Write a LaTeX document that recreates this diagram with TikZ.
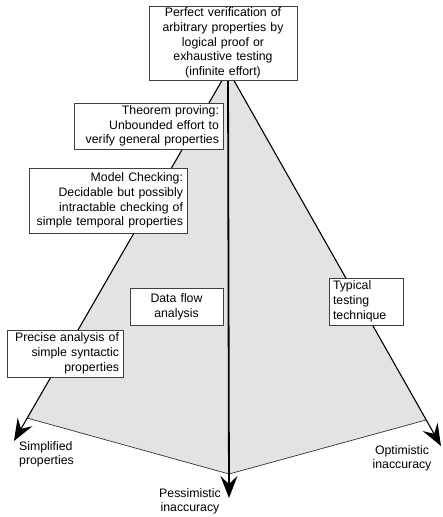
\documentclass[tikz,border=0pt]{standalone}
\usepackage{fontspec}
\setmainfont{Liberation Sans}
\usetikzlibrary{arrows.meta}
\tikzset{
  lbl/.style={font=\fontsize{12.3}{14.2}\selectfont, inner sep=0pt, align=center},
  box/.style={draw=black!75, line width=0.8pt, fill=white, font=\fontsize{12.3}{14.8}\selectfont, inner xsep=4pt, inner ysep=0pt},
  axis/.style={line width=1.1pt, -{Stealth[length=22pt, width=17pt, inset=8pt]}},
  rim/.style={draw=black!80, line width=0.7pt},
}
\begin{document}
\begin{tikzpicture}[x=1pt,y=-1pt]
\useasboundingbox (0,0) rectangle (442,517);
\coordinate (apex) at (228,70);
\coordinate (lc) at (27,418);
\coordinate (cc) at (229,474);
\coordinate (rc) at (426,420);
\coordinate (ltip) at (14,441);
\coordinate (ctip) at (229,498);
\coordinate (rtip) at (441,446);
\fill[black!11] (apex) -- (lc) -- (cc) -- (rc) -- cycle;
\draw[rim] (lc) -- (cc) -- (rc);
\draw[axis] (apex) -- (ltip);
\draw[axis] (apex) -- (rtip);
\draw[axis, line width=1.8pt] (apex) -- (ctip);
\node[box, minimum width=148pt, minimum height=74pt, text width=140pt, align=center] (top) at (223,43)
  {Perfect verification of\\arbitrary properties by\\logical proof or\\exhaustive testing\\(infinite effort)};
\node[box, minimum width=149pt, minimum height=46pt, text width=141pt, align=right] (thm) at (148.5,126)
  {Theorem proving:\\Unbounded effort to\\verify general properties};
\node[box, minimum width=158pt, minimum height=65pt, text width=150pt, align=right] (mc) at (108,200.5)
  {Model Checking:\\Decidable but possibly\\intractable checking of\\simple temporal properties};
\node[box, minimum width=93pt, minimum height=37pt, text width=85pt, align=center] (df) at (176.5,306.5)
  {Data flow\\analysis};
\node[box, minimum width=74pt, minimum height=47pt, text width=66pt, align=left] (tt) at (366,301.5)
  {Typical\\testing\\technique};
\node[box, minimum width=116pt, minimum height=47pt, text width=108pt, align=right] (pa) at (65,353.5)
  {Precise analysis of\\simple syntactic\\properties};
\node[lbl, anchor=north west, align=left] (simp) at (19,441) {Simplified\\properties};
\node[lbl, anchor=south] (pess) at (190,514.5) {Pessimistic\\inaccuracy};
\node[lbl, anchor=north] (opt) at (402,445) {Optimistic\\inaccuracy};
\end{tikzpicture}
\end{document}
